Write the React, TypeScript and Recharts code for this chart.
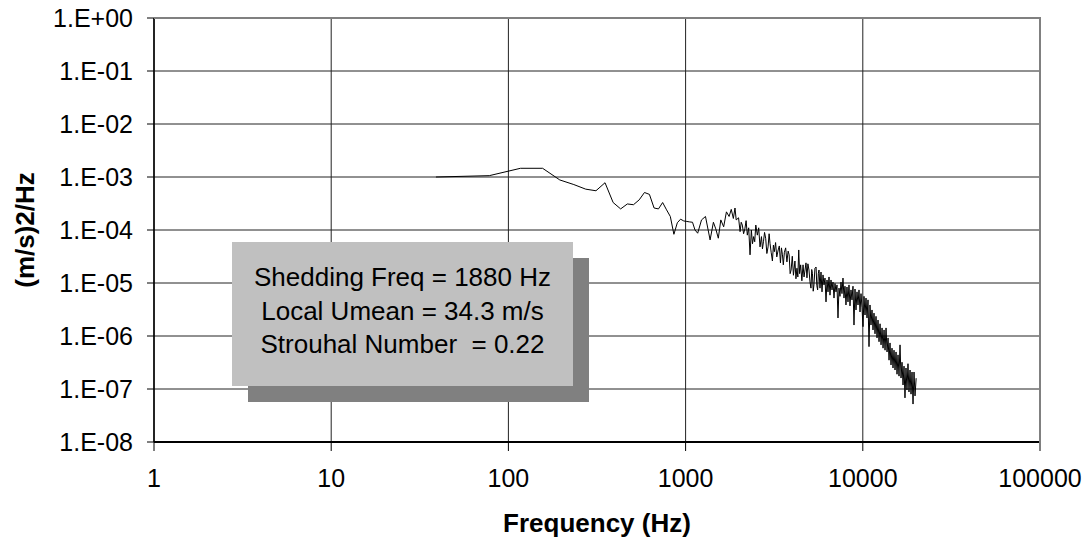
import { LineChart, Line, XAxis, YAxis, CartesianGrid, Label } from 'recharts';

// spectrum, split in three frequency bands
const fLow = [
  39, 78, 117, 156, 195, 234, 273, 312, 351, 390, 430, 469, 508, 547, 586, 625, 664, 703, 742, 781,
  820, 859, 898, 937, 977, 1016, 1055, 1094, 1130, 1170, 1230, 1295, 1375, 1435, 1480, 1530, 1580,
  1640, 1700, 1760, 1810, 1860, 1900, 1930, 1990,
];
const psdLow = [
  1.0e-3, 1.06e-3, 1.46e-3, 1.46e-3, 8.8e-4, 7.2e-4, 5.9e-4, 5.5e-4, 7.8e-4, 3.3e-4, 2.5e-4, 3.1e-4,
  3.0e-4, 3.7e-4, 5.1e-4, 4.7e-4, 2.6e-4, 2.5e-4, 3.3e-4, 2.4e-4, 1.8e-4, 8.3e-5, 1.37e-4, 1.6e-4,
  1.48e-4, 1.45e-4, 1.42e-4, 1.4e-4, 1.0e-4, 8.7e-5, 1.55e-4, 1.8e-4, 6.5e-5, 1.4e-4, 1.05e-4, 7.0e-5,
  1.55e-4, 1.15e-4, 2.2e-4, 1.8e-4, 2.45e-4, 1.65e-4, 2.6e-4, 1.55e-4, 1.7e-4,
];

const fMid = [
  2030, 2060, 2090, 2125, 2160, 2195, 2230, 2270, 2310, 2350, 2385, 2420, 2455, 2490, 2540, 2585,
  2630, 2680, 2715, 2750, 2790, 2830, 2875, 2920, 2960, 2995, 3040, 3090, 3130, 3170, 3220, 3270,
  3330, 3380, 3430, 3475, 3520, 3560, 3610, 3670, 3730, 3790, 3840, 3890, 3940, 4000, 4060, 4140,
  4195, 4250, 4300, 4350, 4400, 4460, 4530, 4600, 4660, 4720, 4780, 4840, 4900, 4970, 5035, 5100,
  5150, 5200, 5250, 5300, 5370, 5450, 5500, 5560, 5610,
];
const psdMid = [
  9.3e-5, 1.4e-4, 1.24e-4, 8.5e-5, 1.05e-4, 1.5e-4, 8.0e-5, 1.1e-4, 3.4e-5, 1.0e-4, 5.5e-5, 7.5e-5,
  6.0e-5, 1.24e-4, 8.0e-5, 1.1e-4, 4.8e-5, 7.5e-5, 4.4e-5, 6.0e-5, 9.0e-5, 7.0e-5, 3.6e-5, 4.8e-5,
  8.5e-5, 5.6e-5, 3.8e-5, 2.6e-5, 5.2e-5, 3.9e-5, 5.8e-5, 3.1e-5, 4.2e-5, 5.0e-5, 2.4e-5, 4.6e-5,
  3.4e-5, 2.2e-5, 3.8e-5, 4.6e-5, 2.5e-5, 4.0e-5, 3.4e-5, 1.5e-5, 1.76e-5, 3.2e-5, 1.4e-5, 2.6e-5,
  1.2e-5, 1.9e-5, 1.3e-5, 4.2e-5, 1.5e-5, 2.2e-5, 1.1e-5, 2.2e-5, 1.3e-5, 1.76e-5, 2.4e-5, 1.25e-5,
  2.3e-5, 1.76e-5, 1.05e-5, 8.0e-6, 1.8e-5, 1.5e-5, 7.0e-6, 9.2e-6, 1.9e-5, 2.0e-5, 9.0e-6, 7.4e-6,
  1.5e-5,
];

const fHigh = [
  5660, 5735, 5810, 5886, 5963, 6041, 6119, 6200, 6281, 6363, 6446, 6529, 6615, 6702, 6789, 6878,
  6967, 7059, 7151, 7245, 7339, 7434, 7532, 7630, 7730, 7831, 7933, 8037, 8142, 8249, 8357, 8467,
  8578, 8690, 8804, 8919, 9036, 9154, 9274, 9396, 9519, 9643, 9769, 9897, 10027, 10158, 10290, 10425,
  10562, 10700, 10840, 10980, 11124, 11270, 11418, 11567, 11720, 11873, 12029, 12186, 12346, 12510,
  12674, 12840, 13008, 13178, 13350, 13525, 13702, 13882, 14063, 14240, 14426, 14615, 14807, 15000,
  15200, 15399, 15600, 15805, 16012, 16220, 16432, 16647, 16865, 17086, 17300, 17527, 17756, 17989,
  18224, 18470, 18712, 18957, 19205, 19456, 19710, 20000,
];
const psdHigh = [
  1.76e-5, 8.0e-6, 1.61e-5, 6.8e-6, 1.42e-5, 9.2e-6, 1.24e-5, 4.4e-6, 1.14e-5, 6.8e-6, 1.3e-5, 5.9e-6,
  1.14e-5, 7.4e-6, 1.04e-5, 5.2e-6, 9.8e-6, 6.8e-6, 9.2e-6, 2.19e-6, 8.0e-6, 5.6e-6, 1.04e-5, 6.3e-6,
  1.24e-5, 5.2e-6, 8.7e-6, 3.85e-6, 8.4e-6, 4.4e-6, 9.2e-6, 3.7e-6, 7.4e-6, 4.8e-6, 8.7e-6, 1.61e-6,
  7.7e-6, 3.1e-6, 6.8e-6, 3.85e-6, 7.4e-6, 2.84e-6, 6.3e-6, 3.4e-6, 1.5e-6, 5.6e-6, 2.49e-6, 5.2e-6,
  2.19e-6, 4.8e-6, 6.3e-7, 3.85e-6, 1.61e-6, 3.1e-6, 1.3e-6, 2.7e-6, 1.1e-6, 2.35e-6, 9.2e-7, 2.0e-6,
  7.8e-7, 1.7e-6, 6.8e-7, 1.42e-6, 5.9e-7, 1.3e-6, 5.4e-7, 1.42e-6, 5.0e-7, 9.2e-7, 3.5e-7, 7.4e-7,
  2.84e-7, 5.9e-7, 2.49e-7, 5.4e-7, 2.28e-7, 5.0e-7, 1.9e-7, 4.4e-7, 1.75e-7, 6.8e-7, 1.61e-7, 3.2e-7,
  1.19e-7, 2.7e-7, 6.8e-8, 2.49e-7, 9.6e-8, 3.0e-7, 8.8e-8, 2.28e-7, 8.0e-8, 2.09e-7, 5.2e-8, 2.09e-7,
  7.4e-8, 1.6e-7,
];

const xTicks = [1, 10, 100, 1000, 10000, 100000];
const yTicks = [1e-8, 1e-7, 1e-6, 1e-5, 1e-4, 1e-3, 1e-2, 1e-1, 1];

const notes = ['Shedding Freq = 1880 Hz', 'Local Umean = 34.3 m/s', 'Strouhal Number  = 0.22'];

const freqs = [...fLow, ...fMid, ...fHigh];
const vals = [...psdLow, ...psdMid, ...psdHigh];
const data = freqs.map((f, i) => ({ f, v: vals[i] }));

const font = '"Liberation Sans", Arial, sans-serif';
const tick = { fontSize: 25, fill: '#000', fontFamily: font };

const fmtExp = (v: number) => {
  const e = Math.round(Math.log10(v));
  return `1.E${e < 0 ? '-' : '+'}${String(Math.abs(e)).padStart(2, '0')}`;
};

export default function App() {
  return (
    <div style={{ position: 'absolute', left: 0, top: 0, width: 1091, height: 545, background: '#fff' }}>
      <LineChart width={1091} height={545} data={data} margin={{ top: 18, right: 51, left: 0, bottom: 0 }}>
        <CartesianGrid stroke="#222" strokeWidth={1} />
        <XAxis
          dataKey="f" type="number" scale="log" domain={[1, 100000]} ticks={xTicks}
          height={103} tick={tick} tickSize={9} tickMargin={18}
          axisLine={{ stroke: '#000', strokeWidth: 2 }} tickLine={{ stroke: '#000' }}
        >
          <Label
            content={(p: any) => (
              <text x={p.viewBox.x + p.viewBox.width / 2} y={p.viewBox.y + p.viewBox.height - 13}
                textAnchor="middle" fontFamily={font} fontSize={26} fontWeight="bold" fill="#000">
                Frequency (Hz)
              </text>
            )}
          />
        </XAxis>
        <YAxis
          type="number" scale="log" domain={[1e-8, 1]} ticks={yTicks} allowDataOverflow
          width={154} tick={tick} tickSize={7} tickMargin={14} tickFormatter={fmtExp}
          axisLine={{ stroke: '#000', strokeWidth: 1.5 }} tickLine={{ stroke: '#000' }}
        >
          <Label
            content={(p: any) => {
              const cx = p.viewBox.x + 25;
              const cy = p.viewBox.y + p.viewBox.height / 2;
              return (
                <text x={cx} y={cy} transform={`rotate(-90 ${cx} ${cy})`} textAnchor="middle"
                  dominantBaseline="central" fontFamily={font} fontSize={26} fontWeight="bold" fill="#000">
                  (m/s)2/Hz
                </text>
              );
            }}
          />
        </YAxis>
        <Line dataKey="v" stroke="#000" strokeWidth={1} dot={false} isAnimationActive={false} />
      </LineChart>

      {/* plot area border (top/right) */}
      <div style={{
        position: 'absolute', left: 154, top: 17, width: 885, height: 425,
        borderTop: '2px solid #808080', borderRight: '2px solid #808080', pointerEvents: 'none',
      }} />

      {/* annotation box */}
      <div style={{
        position: 'absolute', left: 232, top: 242, width: 341, height: 144,
        background: '#c0c0c0', boxShadow: '16px 16px 0 #808080',
        fontFamily: font, fontSize: 26, lineHeight: '33.5px', color: '#000',
        textAlign: 'center', whiteSpace: 'pre', paddingTop: 19, boxSizing: 'border-box',
      }}>
        {notes.map((t) => <div key={t}>{t}</div>)}
      </div>
    </div>
  );
}
